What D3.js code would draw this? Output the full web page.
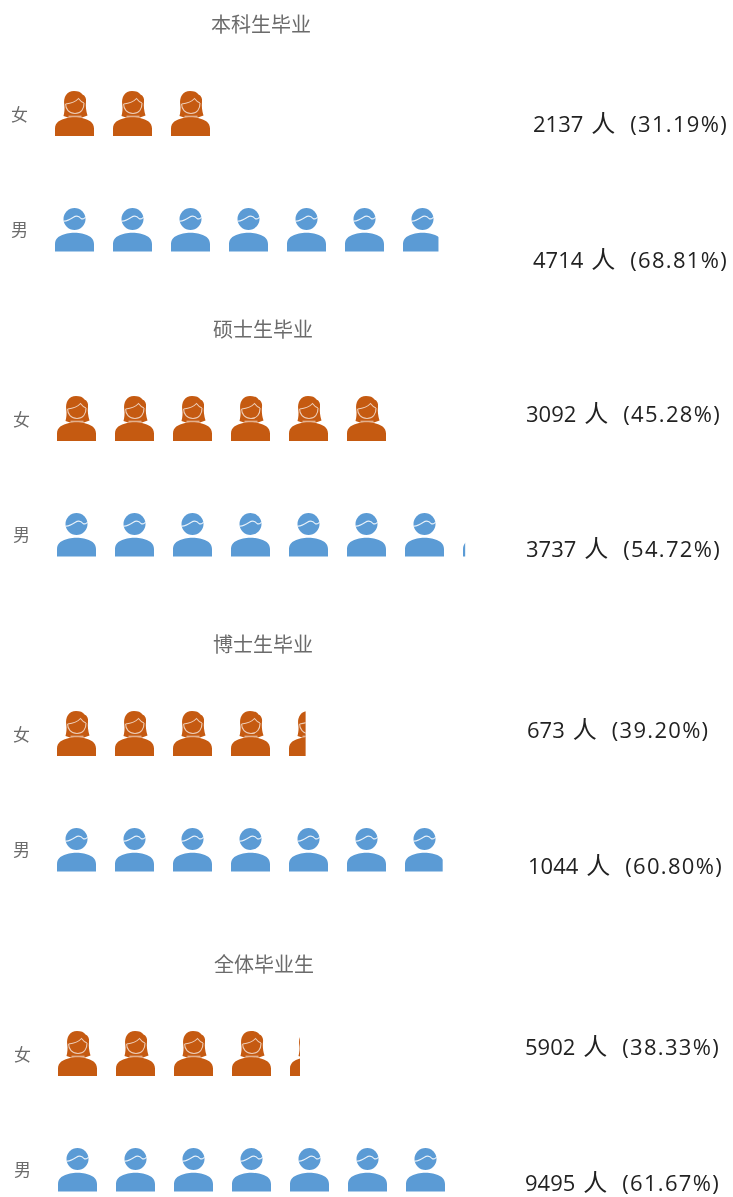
<!DOCTYPE html>
<html>
<head>
<meta charset="utf-8">
<script src="https://d3js.org/d3.v7.min.js"></script>
<style>
  html, body { margin: 0; background: #fff; }
  svg { display: block; filter: blur(0.45px); }
  text { font-family: "Noto Sans CJK SC", "Open Sans", sans-serif; }
  .num { font-family: "Open Sans", "Noto Sans CJK SC", sans-serif; }
</style>
</head>
<body>
<div id="chart"></div>
<script>
const panelTitles = ["本科生毕业", "硕士生毕业", "博士生毕业", "全体毕业生"];
const genders = ["女", "男"];
const femaleCounts = [2137, 3092, 673, 5902];
const maleCounts = [4714, 3737, 1044, 9495];
const femaleShares = ["31.19%", "45.28%", "39.20%", "38.33%"];
const maleShares = ["68.81%", "54.72%", "60.80%", "61.67%"];
// people per icon, each panel has its own
const perIcon = [713, 531, 157, 1415];

// the four panels are not evenly placed in the original
const panelTop = [0, 305, 620, 940];
const panelLeft = [0, 2, 2, 3];
const valueLeft = [[533, 533], [526, 526], [527, 528], [525, 525]];
const valueTop = [[125, 261], [110, 245], [111, 247], [108, 244]];

const width = 733, height = 1197;
const iconPitch = 58;
const colors = { "女": "#c55a11", "男": "#5b9bd5" };

const femaleHair = "M8.5,25 C9.5,21 9.8,18 9.3,14 C8,6 12,0 19,0 C23,0 26,1 27.5,3.5 C30,4.5 31.5,7 31,11 C30.5,15 31,20 32.5,24.5 L27,26.5 L13,26.5 Z";
const femaleFace = "M10.6,13 C10.6,18 14,22.5 20,22.5 C26,22.5 29.2,18 29,12 M10.6,13 C15,12.5 20,11.5 23.5,7.5 C25,9.5 27,11.5 29,12 M13.5,25.2 L26.5,25.2";
const maleHead = "M8.5,11 a11,11 0 1,0 22,0 a11,11 0 1,0 -22,0 Z";
const maleHair = "M8.5,13 C12,13.5 15,11.5 18,9.5 C21,7.5 24,8 26,10.5 C27.5,11.5 29.5,10.5 30.5,9";
const bodyPath = "M0,43.5 L0,36 C0,30 5,27 12,25.5 C16,24.5 23,24.5 27,25.5 C34,27 39,30 39,36 L39,43.5 Z";
const labelOffset = { "女": 25, "男": 23 };

const svg = d3.select("#chart").append("svg")
    .attr("width", width)
    .attr("height", height);

function drawIcon(g, gender) {
    if (gender == "女") {
        g.append("path").attr("d", femaleHair).attr("fill", colors[gender]);
        g.append("path").attr("d", femaleFace)
            .attr("fill", "none")
            .attr("stroke", "#fff")
            .attr("stroke-opacity", 0.7)
            .attr("stroke-width", 1.1);
        g.append("path").attr("d", bodyPath).attr("transform", "translate(0, 1.5)").attr("fill", colors[gender]);
    } else {
        g.append("path").attr("d", maleHead).attr("fill", colors[gender]);
        g.append("path").attr("d", maleHair)
            .attr("fill", "none")
            .attr("stroke", "#fff")
            .attr("stroke-opacity", 0.85)
            .attr("stroke-width", 1.2);
        g.append("path").attr("d", bodyPath).attr("fill", colors[gender]);
    }
}

const rowScale = d3.scalePoint().domain(genders).range([91, 208]);

panelTitles.forEach((title, p) => {
    const panel = svg.append("g")
        .attr("transform", `translate(${panelLeft[p]}, ${panelTop[p]})`);

    panel.append("text")
        .attr("x", 261)
        .attr("y", 27)
        .attr("text-anchor", "middle")
        .attr("dominant-baseline", "middle")
        .attr("font-size", 20)
        .attr("fill", "#6b6b6b")
        .text(title);

    const x = d3.scaleLinear().domain([0, perIcon[p]]).range([0, iconPitch]);

    genders.forEach((gender, r) => {
        const count = (r ? maleCounts : femaleCounts)[p];
        const share = (r ? maleShares : femaleShares)[p];
        const y = rowScale(gender);
        const clipId = `clip-${p}-${r}`;

        panel.append("clipPath").attr("id", clipId)
            .append("rect")
            .attr("x", 0)
            .attr("y", -2)
            .attr("width", x(count))
            .attr("height", 50);

        panel.append("text")
            .attr("x", 11)
            .attr("y", y + labelOffset[gender])
            .attr("dominant-baseline", "middle")
            .attr("font-size", 17)
            .attr("fill", "#6b6b6b")
            .text(gender);

        const row = panel.append("g")
            .attr("transform", `translate(55, ${y})`)
            .attr("clip-path", `url(#${clipId})`);

        row.selectAll("g")
            .data(d3.range(Math.ceil(count / perIcon[p])))
            .join("g")
            .attr("transform", d => `translate(${x(d * perIcon[p])}, 0)`)
            .each(function() { drawIcon(d3.select(this), gender); });

        const label = svg.append("text")
            .attr("class", "num")
            .attr("x", valueLeft[p][r])
            .attr("y", panelTop[p] + valueTop[p][r] + 1)
            .attr("dominant-baseline", "middle")
            .attr("font-size", 22)
            .attr("fill", "#222");
        label.append("tspan").text(count);
        label.append("tspan").attr("dx", 8).attr("font-size", 24).text("人");
        label.append("tspan").attr("dx", 15).attr("letter-spacing", 1.3).text(`(${share})`);
    });
});
</script>
</body>
</html>
